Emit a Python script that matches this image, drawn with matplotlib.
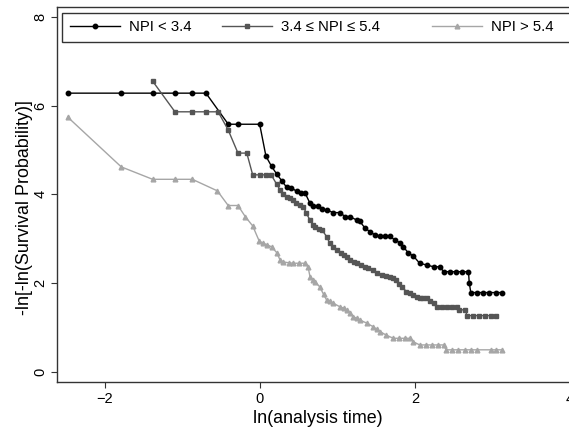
import matplotlib
matplotlib.use("Agg")
import matplotlib.pyplot as plt
from matplotlib.legend import Legend
from matplotlib.patches import Rectangle

plt.rcParams["font.family"] = ["Liberation Sans", "DejaVu Sans"]

# NPI < 3.4
low_x = [-2.48, -1.79, -1.385, -1.097, -0.873, -0.697, -0.409, -0.284, -0.004, 0.077,
         0.15, 0.215, 0.284, 0.344, 0.404, 0.473, 0.529, 0.58, 0.645, 0.69,
         0.75, 0.80, 0.86, 0.946, 1.03, 1.10, 1.16, 1.25, 1.29, 1.355,
         1.42, 1.48, 1.55, 1.61, 1.68, 1.74, 1.81, 1.85, 1.91, 1.98,
         2.06, 2.15, 2.24, 2.32, 2.37, 2.45, 2.53, 2.61, 2.69, 2.70,
         2.72, 2.80, 2.88, 2.96, 3.04, 3.12]
low_y = [6.28, 6.28, 6.28, 6.28, 6.28, 6.28, 5.58, 5.58, 5.58, 4.86,
         4.63, 4.46, 4.30, 4.16, 4.15, 4.07, 4.04, 4.04, 3.80, 3.74,
         3.74, 3.67, 3.65, 3.59, 3.59, 3.50, 3.50, 3.42, 3.39, 3.24,
         3.16, 3.09, 3.06, 3.06, 3.06, 2.97, 2.91, 2.82, 2.69, 2.61,
         2.45, 2.41, 2.37, 2.37, 2.26, 2.26, 2.26, 2.26, 2.26, 2.01,
         1.79, 1.79, 1.79, 1.79, 1.79, 1.79]

# 3.4 <= NPI <= 5.4
mid_x = [-1.385, -1.097, -0.873, -0.697, -0.54, -0.41, -0.284, -0.17, -0.094, -0.005,
         0.08, 0.145, 0.215, 0.26, 0.30, 0.344, 0.39, 0.43, 0.47, 0.51,
         0.56, 0.60, 0.645, 0.69, 0.71, 0.76, 0.80, 0.86, 0.90, 0.946,
         0.99, 1.04, 1.08, 1.12, 1.16, 1.21, 1.25, 1.30, 1.35, 1.40,
         1.46, 1.51, 1.57, 1.62, 1.68, 1.72, 1.76, 1.80, 1.83, 1.89,
         1.93, 1.98, 2.02, 2.06, 2.10, 2.15, 2.19, 2.24, 2.28, 2.35,
         2.41, 2.48, 2.54, 2.57, 2.65, 2.67, 2.75, 2.83, 2.90, 2.98, 3.05]
mid_y = [6.55, 5.86, 5.86, 5.86, 5.86, 5.45, 4.93, 4.93, 4.44, 4.44,
         4.44, 4.44, 4.23, 4.10, 4.02, 3.95, 3.91, 3.87, 3.80, 3.76,
         3.72, 3.57, 3.42, 3.31, 3.27, 3.22, 3.20, 3.05, 2.90, 2.82,
         2.75, 2.69, 2.64, 2.58, 2.52, 2.48, 2.45, 2.41, 2.37, 2.34,
         2.30, 2.24, 2.18, 2.16, 2.15, 2.11, 2.07, 1.98, 1.92, 1.81,
         1.77, 1.73, 1.70, 1.67, 1.66, 1.66, 1.60, 1.55, 1.47, 1.47,
         1.47, 1.47, 1.47, 1.40, 1.40, 1.27, 1.27, 1.27, 1.27, 1.27, 1.27]

# NPI > 5.4
high_x = [-2.48, -1.79, -1.385, -1.097, -0.873, -0.55, -0.41, -0.284, -0.19, -0.094,
          -0.01, 0.04, 0.086, 0.15, 0.215, 0.26, 0.30, 0.37, 0.43, 0.50,
          0.58, 0.62, 0.645, 0.68, 0.71, 0.77, 0.82, 0.86, 0.90, 0.946,
          1.03, 1.08, 1.12, 1.16, 1.20, 1.25, 1.29, 1.38, 1.46, 1.51,
          1.55, 1.63, 1.72, 1.80, 1.87, 1.94, 1.98, 2.06, 2.14, 2.22,
          2.30, 2.37, 2.40, 2.48, 2.56, 2.64, 2.72, 2.80, 2.98, 3.05, 3.12]
high_y = [5.74, 4.62, 4.34, 4.34, 4.34, 4.08, 3.75, 3.75, 3.50, 3.29,
          2.95, 2.90, 2.87, 2.82, 2.69, 2.52, 2.48, 2.46, 2.45, 2.45,
          2.45, 2.37, 2.15, 2.08, 2.03, 1.92, 1.75, 1.62, 1.59, 1.55,
          1.47, 1.44, 1.40, 1.32, 1.25, 1.21, 1.17, 1.10, 1.02, 0.96,
          0.91, 0.83, 0.76, 0.76, 0.76, 0.76, 0.68, 0.61, 0.61, 0.61,
          0.61, 0.61, 0.50, 0.50, 0.50, 0.50, 0.50, 0.50, 0.50, 0.50, 0.50]

labels = ["NPI < 3.4", "3.4 \u2264 NPI \u2264 5.4", "NPI > 5.4"]
x_ticks = [-2, 0, 2, 4]
x_ticklabels = ["\u22122", "0", "2", "4"]
y_ticks = [0, 2, 4, 6, 8]

LEG_FONTSIZE = 10.7
AXIS_COLOR = "#333333"

fig = plt.figure(figsize=(5.69, 4.32), dpi=100)
# axes runs past the right edge, as in the cropped original
ax = fig.add_axes([0.1007, 0.1157, 0.9147, 0.8688])

h_low, = ax.plot(low_x, low_y, color="black", lw=1, marker="o", ms=3.2)
h_mid, = ax.plot(mid_x, mid_y, color="#555555", lw=1, marker="s", ms=3.0)
h_high, = ax.plot(high_x, high_y, color="#a6a6a6", lw=1, marker="^", ms=3.4)

ax.set_xlim(-2.615, 4.1)
ax.set_ylim(-0.225, 8.227)
ax.set_xticks(x_ticks)
ax.set_xticklabels(x_ticklabels)
ax.set_yticks(y_ticks)
for lbl in ax.get_yticklabels():
    lbl.set_rotation(90)
    lbl.set_va("center")
ax.tick_params(direction="out", length=4, width=0.8, color=AXIS_COLOR, labelsize=10.5, pad=3)
for side in ["left", "bottom", "top", "right"]:
    ax.spines[side].set_color(AXIS_COLOR)
    ax.spines[side].set_linewidth(1)

ax.set_xlabel("ln(analysis time)", fontsize=12.9, labelpad=3)
ax.set_ylabel("-ln[-ln(Survival Probability)]", fontsize=12.9)
ax.yaxis.set_label_coords(-0.047, 0.465)

# legend box (runs off the right edge like the original)
ax.add_patch(Rectangle((0.0096, 0.9067), 0.987, 0.0757, transform=ax.transAxes,
                       facecolor="white", edgecolor=AXIS_COLOR, lw=1, zorder=5,
                       clip_on=False))

# one legend per entry so the column gaps match the original
entry_x = [0.0244, 0.3158, 0.7193]
for handle, label, x0 in zip([h_low, h_mid, h_high], labels, entry_x):
    leg = Legend(ax, [handle], [label], loc="center left", bbox_to_anchor=(x0, 0.9446),
                 fontsize=LEG_FONTSIZE, frameon=False, handlelength=3.36,
                 handletextpad=0.63, borderpad=0, borderaxespad=0)
    leg.set_zorder(6)
    ax.add_artist(leg)

fig.savefig("out.png", dpi=100)
